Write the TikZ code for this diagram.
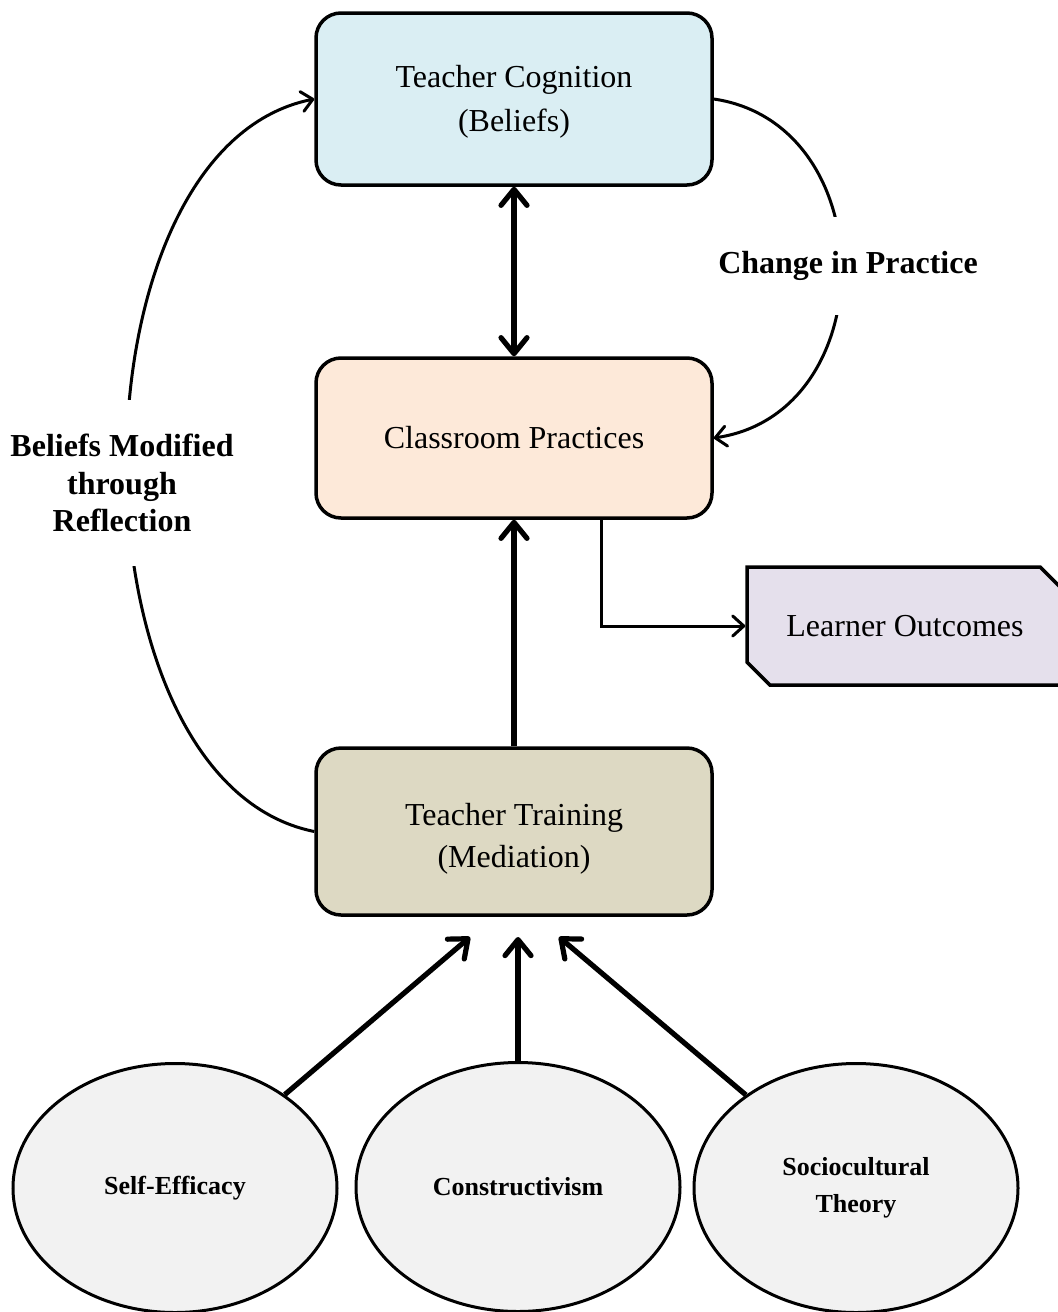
\documentclass[tikz,border=0pt]{standalone}
\usepackage{fontspec}
\setmainfont{Liberation Serif}
\usepackage{xcolor}
\usepackage{tikz}
\usetikzlibrary{arrows.meta,positioning,shapes.geometric,shapes.misc,calc}
\definecolor{cogblue}{HTML}{DAEEF3}
\definecolor{classpeach}{HTML}{FDE9D9}
\definecolor{traintan}{HTML}{DDD9C3}
\definecolor{outlav}{HTML}{E5E0EC}
\definecolor{ovalgray}{HTML}{F2F2F2}

\begin{document}
\begin{tikzpicture}[x=0.5pt,y=-0.5pt,
  box/.style={draw,line width=1.75pt,rounded corners=12.5pt,minimum width=198pt,
    align=center,font=\fontsize{16}{22}\selectfont},
  theory/.style={ellipse,draw,line width=1.5pt,fill=ovalgray,minimum width=162pt,
    minimum height=124.5pt,align=center,font=\bfseries\fontsize{13}{18.5}\selectfont},
  lbl/.style={fill=white,inner ysep=17pt,align=center,
    font=\bfseries\fontsize{16}{18.75}\selectfont},
  boldline/.style={line width=2.6pt,>={Straight Barb[length=8pt,width=13pt,round]}},
  curveline/.style={line width=1.5pt,>={Straight Barb[length=5.5pt,width=10pt,round]}}]
  \useasboundingbox (0,0) rectangle (1057,1312);
  % Boxes
  \node[box,fill=cogblue,minimum height=86pt] (cog) at (514,99)
    {\rule{0pt}{14pt}Teacher Cognition\\(Beliefs)};
  \node[box,fill=classpeach,minimum height=80pt] (class) at (514,438)
    {Classroom Practices};
  \node[box,fill=traintan,minimum height=83.5pt,
    font=\fontsize{16}{21}\selectfont] (train) at (514,831.5)
    {\rule{0pt}{18pt}Teacher Training\\(Mediation)};
  \node[chamfered rectangle,chamfered rectangle corners={north east,south west},
    chamfered rectangle xsep=5.7pt,chamfered rectangle ysep=5.7pt,
    draw,line width=1.75pt,fill=outlav,minimum width=158pt,minimum height=59pt,
    font=\fontsize{16}{20}\selectfont] (outc) at (905,626) {Learner Outcomes};
  % Theories
  \node[theory] (self) at (175,1188) {Self-Efficacy};
  \node[theory] (constr) at (518,1187) {Constructivism};
  \node[theory] (socio) at (856,1188) {Sociocultural\\Theory};
  \coordinate (inL) at (470,937);
  \coordinate (inC) at (518,937);
  \coordinate (inR) at (559,937);
  % Connectors
  \draw[boldline,<->] (cog.south) -- (class.north);
  \draw[boldline,->] (train.north) -- (class.south);
  \draw[boldline,->] (self) -- (inL);
  \draw[boldline,->] (constr) -- (inC);
  \draw[boldline,->] (socio) -- (inR);
  \draw[curveline,->] ($(class.south)+(87,0)$) |- (outc.west);
  \draw[curveline,->] (train.west) .. controls +(-250,-50) and +(-250,50) .. (cog.west);
  \draw[curveline,->] (cog.east) .. controls +(170,25) and +(170,-25) .. (class.east);
  % Labels
  \node[lbl] (chg) at (848,266) {Change in Practice};
  \node[lbl] (refl) at (122,483) {Beliefs Modified\\through\\Reflection};
\end{tikzpicture}
\end{document}
